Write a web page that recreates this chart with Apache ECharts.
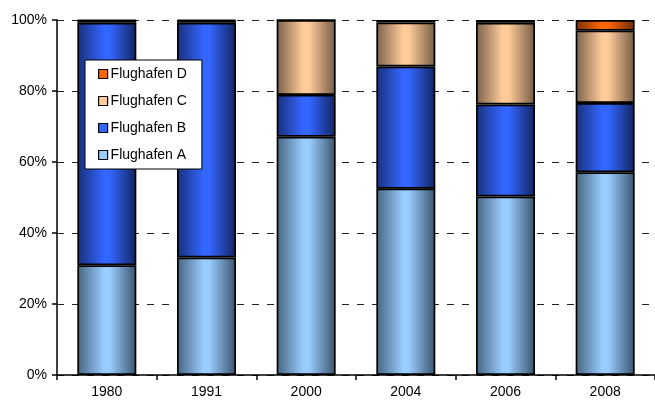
<!DOCTYPE html>
<html>
<head>
<meta charset="utf-8">
<script src="https://cdn.jsdelivr.net/npm/echarts@6/dist/echarts.min.js"></script>
<style>
html,body{margin:0;padding:0;background:#fff;}
#c{width:655px;height:401px;}
</style>
</head>
<body>
<div id="c"></div>
<script>
var categories = ['1980', '1991', '2000', '2004', '2006', '2008'];
var seriesNames = ['Flughafen A', 'Flughafen B', 'Flughafen C', 'Flughafen D'];
var flughafenA = [30.9, 33.1, 67.1, 52.5, 50.3, 57.1];
var flughafenB = [68.3, 66.1, 11.8, 34.4, 25.9, 19.5];
var flughafenC = [0.6, 0.6, 21.1, 12.4, 23.0, 20.4];
var flughafenD = [0.2, 0.2, 0.0, 0.7, 0.8, 3.0];
var yTicks = [0, 20, 40, 60, 80, 100];

var palette = [
  { mid: '#99CCFF', edgeL: '#46647F', edgeR: '#3A536C', solid: '#99CCFF' },
  { mid: '#3366FF', edgeL: '#18307A', edgeR: '#112460', solid: '#3366FF' },
  { mid: '#FFCC99', edgeL: '#7A604A', edgeR: '#735A44', solid: '#FFCC99' },
  { mid: '#FF6600', edgeL: '#7A3000', edgeR: '#6A2A00', solid: '#FF6600' }
];

function grad(p) {
  return new echarts.graphic.LinearGradient(0, 0, 1, 0, [
    { offset: 0, color: p.edgeL },
    { offset: 0.45, color: p.mid },
    { offset: 0.55, color: p.mid },
    { offset: 1, color: p.edgeR }
  ]);
}

var dataSets = [flughafenA, flughafenB, flughafenC, flughafenD];
var series = dataSets.map(function (d, i) {
  return {
    name: seriesNames[i],
    type: 'bar',
    stack: 'total',
    barWidth: 59,
    data: d,
    itemStyle: { color: grad(palette[i]), borderColor: '#000', borderWidth: 1.7 },
    emphasis: { disabled: true }
  };
});

var chart = echarts.init(document.getElementById('c'), null, { renderer: 'canvas' });
chart.setOption({
  animation: false,
  backgroundColor: '#fff',
  grid: { left: 57, right: -3, top: 20, bottom: 26 },
  legend: {
    orient: 'vertical',
    left: 85,
    top: 60,
    padding: [6, 15, 6, 13],
    itemGap: 11,
    itemWidth: 9,
    itemHeight: 9,
    borderColor: '#000',
    borderWidth: 1,
    backgroundColor: '#fff',
    textStyle: { fontFamily: 'Liberation Sans, Arial, sans-serif', fontSize: 14, color: '#000', lineHeight: 16, padding: [0, 0, 0, -2] },
    data: [3, 2, 1, 0].map(function (i) {
      return {
        name: seriesNames[i],
        icon: 'rect',
        itemStyle: { color: palette[i].solid, borderColor: '#000', borderWidth: 1.2 }
      };
    })
  },
  xAxis: {
    type: 'category',
    data: categories,
    axisLine: { lineStyle: { color: '#000', width: 1.5 } },
    axisTick: { show: true, length: 5, alignWithLabel: false, lineStyle: { color: '#000', width: 1.5 } },
    axisLabel: { fontFamily: 'Liberation Sans, Arial, sans-serif', fontSize: 14, color: '#000', margin: 10 },
    splitLine: { show: false }
  },
  yAxis: {
    type: 'value',
    min: yTicks[0],
    max: yTicks[yTicks.length - 1],
    interval: 20,
    axisLine: { show: true, lineStyle: { color: '#000', width: 1.5 } },
    axisTick: { show: true, length: 5, lineStyle: { color: '#000', width: 1.5 } },
    axisLabel: { formatter: '{value}%', fontFamily: 'Liberation Sans, Arial, sans-serif', fontSize: 14, color: '#000', margin: 10 },
    splitLine: { show: true, lineStyle: { color: '#222', width: 1.2, type: [7, 8] } }
  },
  series: series
});
</script>
</body>
</html>
